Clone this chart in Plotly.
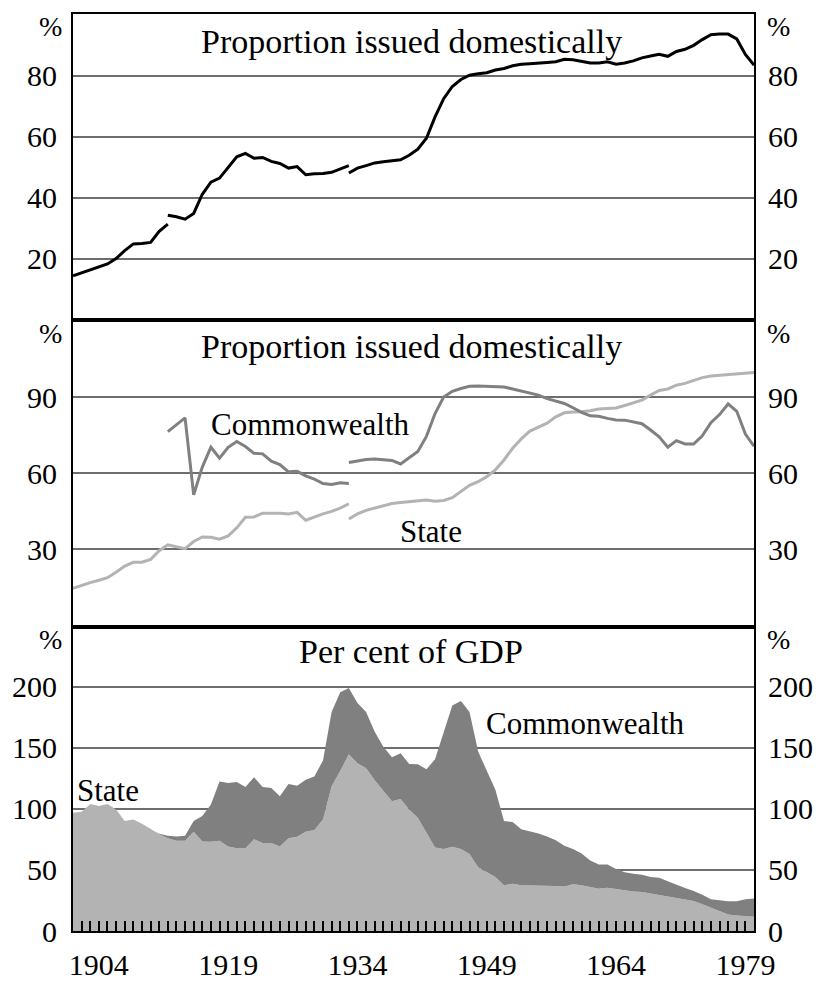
import plotly.graph_objects as go

# ---------------- data ----------------
years_all = list(range(1901, 1981))
label_years = [1904, 1919, 1934, 1949, 1964, 1979]

# Panel 1: proportion issued domestically (total), three series segments
total_dom_years_1 = list(range(1901, 1913))
total_dom_1 = [14.3, 15.3, 16.3, 17.3, 18.2, 20.0, 22.6, 24.8, 24.9, 25.3, 28.9, 31.3]
total_dom_years_2 = list(range(1912, 1934))
total_dom_2 = [34.2, 33.7, 32.9, 34.8, 41.1, 45.1, 46.4, 50.0, 53.4, 54.5, 52.9,
               53.2, 51.9, 51.2, 49.7, 50.2, 47.5, 47.8, 47.9, 48.3, 49.4, 50.5]
total_dom_years_3 = list(range(1933, 1981))
total_dom_3 = [48.1, 49.7, 50.5, 51.4, 51.8, 52.1, 52.4, 53.9, 55.9, 59.5,
               66.5, 72.5, 76.5, 78.8, 80.2, 80.7, 81.0, 81.9, 82.4, 83.3,
               83.8, 84.0, 84.3, 84.4, 84.6, 85.4, 85.3, 84.8, 84.2, 84.2,
               84.6, 83.8, 84.2, 84.9, 85.9, 86.5, 87.1, 86.4, 88.0, 88.7,
               90.0, 91.9, 93.5, 93.7, 93.7, 92.1, 87.0, 83.5]

# Panel 2: proportion issued domestically by issuer
cw_dom_years_1 = list(range(1912, 1934))
cw_dom_1 = [76.4, 79.0, 81.8, 51.4, 62.4, 70.2, 65.9, 70.2, 72.5, 70.5, 67.8,
            67.6, 64.7, 63.4, 60.5, 60.7, 58.9, 57.6, 55.9, 55.5, 56.2, 55.9]
cw_dom_years_2 = list(range(1933, 1981))
cw_dom_2 = [64.2, 64.8, 65.4, 65.6, 65.4, 65.0, 63.6, 66.0, 68.5, 74.5,
            83.5, 90.0, 92.3, 93.4, 94.3, 94.4, 94.3, 94.1, 94.0, 93.2,
            92.4, 91.8, 90.8, 89.4, 88.6, 87.5, 85.8, 84.0, 82.6, 82.4,
            81.6, 81.0, 80.9, 80.3, 79.5, 77.0, 74.3, 70.2, 72.8, 71.5,
            71.5, 74.7, 79.9, 83.1, 87.3, 84.4, 75.4, 70.6]
st_dom_years_1 = list(range(1901, 1934))
st_dom_1 = [14.5, 15.7, 16.8, 17.7, 18.7, 20.9, 23.3, 24.8, 24.8, 25.9,
            29.4, 31.7, 31.0, 30.2, 33.0, 34.8, 34.7, 33.9, 35.2, 38.4,
            42.6, 42.7, 44.2, 44.2, 44.2, 43.9, 44.5, 41.4, 42.7, 43.9,
            44.9, 46.2, 47.9]
st_dom_years_2 = list(range(1933, 1981))
st_dom_2 = [41.9, 43.9, 45.3, 46.3, 47.3, 48.0, 48.4, 48.8, 49.1, 49.4,
            48.9, 49.2, 50.3, 52.8, 55.2, 56.6, 58.6, 61.3, 65.2, 69.8,
            73.5, 76.6, 78.3, 79.7, 82.2, 83.8, 84.1, 84.2, 84.6, 85.3,
            85.5, 85.7, 86.7, 87.8, 88.8, 90.8, 92.6, 93.2, 94.7, 95.4,
            96.7, 97.7, 98.3, 98.6, 98.9, 99.1, 99.4, 99.7]

# Panel 3: per cent of GDP (stacked)
state_gdp = [96.8, 97.5, 104.0, 102.2, 104.0, 99.4, 90.0, 91.3, 87.8, 83.2,
             79.2, 75.9, 73.8, 73.8, 81.1, 73.3, 73.0, 73.8, 69.2, 67.8,
             67.8, 75.1, 71.9, 71.9, 69.2, 75.9, 77.1, 81.1, 82.7, 91.3,
             118.4, 131.0, 144.6, 137.3, 133.2, 123.3, 114.3, 106.2, 108.0, 99.4,
             92.7, 80.6, 68.4, 67.0, 69.0, 67.0, 63.0, 52.2, 48.1, 44.1,
             37.4, 38.7, 37.4, 37.4, 37.4, 37.4, 36.8, 36.5, 38.2, 37.4,
             36.0, 34.6, 35.4, 34.3, 33.3, 32.4, 31.9, 30.6, 29.8, 28.5,
             27.1, 25.8, 24.5, 21.8, 19.0, 16.3, 13.5, 12.7, 12.1, 11.7]
cw_gdp = [0, 0, 0, 0, 0, 0, 0, 0, 0, 0,
          0.3, 2.1, 3.5, 4.1, 8.9, 20.8, 30.5, 48.6, 51.9, 54.1,
          50.0, 50.6, 45.9, 45.1, 41.1, 44.4, 41.8, 42.6, 43.8, 48.2,
          60.8, 64.4, 54.3, 49.2, 46.0, 39.7, 36.5, 35.9, 37.4, 37.3,
          43.8, 51.8, 72.1, 94.6, 115.5, 121.1, 116.2, 94.6, 82.4, 71.5,
          52.6, 50.5, 45.8, 44.1, 42.3, 39.9, 37.5, 33.3, 28.8, 26.1,
          21.6, 19.8, 19.0, 16.5, 14.8, 14.4, 14.1, 13.5, 13.7, 12.3,
          10.7, 9.4, 8.2, 7.9, 7.0, 8.9, 10.9, 11.7, 13.9, 14.8]

top_ticks = [20, 40, 60, 80]
mid_ticks = [30, 60, 90]
bot_ticks = [0, 50, 100, 150, 200]

# ---------------- style ----------------
FONT = "Liberation Serif"
BLACK = "#000000"
DARK = "#808080"
LIGHT = "#b3b3b3"
GRID = "#6e6e6e"

fig = go.Figure()

# top panel
for xs, ys in [(total_dom_years_1, total_dom_1), (total_dom_years_2, total_dom_2),
               (total_dom_years_3, total_dom_3)]:
    fig.add_trace(go.Scatter(x=xs, y=ys, mode="lines", xaxis="x3", yaxis="y3",
                             line=dict(color=BLACK, width=3), showlegend=False,
                             hoverinfo="skip"))
# middle panel
for xs, ys in [(st_dom_years_1, st_dom_1), (st_dom_years_2, st_dom_2)]:
    fig.add_trace(go.Scatter(x=xs, y=ys, mode="lines", xaxis="x2", yaxis="y2",
                             line=dict(color=LIGHT, width=3), showlegend=False,
                             hoverinfo="skip"))
for xs, ys in [(cw_dom_years_1, cw_dom_1), (cw_dom_years_2, cw_dom_2)]:
    fig.add_trace(go.Scatter(x=xs, y=ys, mode="lines", xaxis="x2", yaxis="y2",
                             line=dict(color=DARK, width=3), showlegend=False,
                             hoverinfo="skip"))
# bottom panel (stacked areas)
fig.add_trace(go.Scatter(x=years_all, y=state_gdp, mode="lines", stackgroup="gdp",
                         line=dict(width=0, color=LIGHT), fillcolor=LIGHT,
                         xaxis="x", yaxis="y", showlegend=False, hoverinfo="skip"))
fig.add_trace(go.Scatter(x=years_all, y=cw_gdp, mode="lines", stackgroup="gdp",
                         line=dict(width=0, color=DARK), fillcolor=DARK,
                         xaxis="x", yaxis="y", showlegend=False, hoverinfo="skip"))
# dummy traces so right-hand axes render
for xa, ya in [("x", "y4"), ("x2", "y5"), ("x3", "y6")]:
    fig.add_trace(go.Scatter(x=[None], y=[None], xaxis=xa, yaxis=ya,
                             showlegend=False, hoverinfo="skip"))

bot_dom = [0, 308 / 928]
mid_dom = [308 / 928, 618 / 928]
top_dom = [618 / 928, 1]

tickfont = dict(family=FONT, size=30, color=BLACK)
xr = [1901, 1980]

common_x = dict(range=xr, showgrid=False, zeroline=False, showline=True,
                mirror=True, linecolor=BLACK, linewidth=2)
fig.update_layout(
    width=825, height=993,
    margin=dict(l=71, r=67, t=12, b=53),
    paper_bgcolor="white", plot_bgcolor="white",
    showlegend=False,
    xaxis=dict(**common_x, anchor="y", tickmode="array", tickvals=years_all,
               ticktext=[str(y) if y in label_years else "" for y in years_all],
               ticks="inside", ticklen=10, tickwidth=1.5, tickcolor=BLACK,
               tickfont=tickfont, ticklabelstandoff=6),
    xaxis2=dict(**common_x, anchor="y2", matches="x", showticklabels=False, ticks=""),
    xaxis3=dict(**common_x, anchor="y3", matches="x", showticklabels=False, ticks=""),
)

def yax(dom, rng, tv, anchor):
    return dict(domain=dom, range=rng, tickmode="array", tickvals=tv,
                showgrid=True, gridcolor=GRID, gridwidth=1.5, zeroline=False,
                showline=True, mirror=True, linecolor=BLACK, linewidth=2,
                ticks="", tickfont=tickfont, anchor=anchor, ticklabelstandoff=8)

def yax_r(over, rng, tv, anchor):
    return dict(overlaying=over, side="right", range=rng, tickmode="array",
                tickvals=tv, showgrid=False, zeroline=False, showline=False,
                ticks="", tickfont=tickfont, anchor=anchor, ticklabelstandoff=13)

bot_rng = [0, 249]
mid_rng = [-0.6, 120.3]
top_rng = [-0.3, 100.3]

fig.update_layout(
    yaxis=yax(bot_dom, bot_rng, bot_ticks, "x"),
    yaxis2=yax(mid_dom, mid_rng, mid_ticks, "x2"),
    yaxis3=yax(top_dom, top_rng, top_ticks, "x3"),
    yaxis4=yax_r("y", bot_rng, bot_ticks, "x"),
    yaxis5=yax_r("y2", mid_rng, mid_ticks, "x2"),
    yaxis6=yax_r("y3", top_rng, top_ticks, "x3"),
)

title_font = dict(family=FONT, size=34, color=BLACK)
label_font = dict(family=FONT, size=31, color=BLACK)

ann = []
ann.append(dict(text="Proportion issued domestically", xref="paper", yref="paper",
                x=0.497, y=(940 - 40) / 928, showarrow=False, font=title_font,
                xanchor="center", yanchor="middle"))
ann.append(dict(text="Proportion issued domestically", xref="paper", yref="paper",
                x=0.497, y=(940 - 348) / 928, showarrow=False, font=title_font,
                xanchor="center", yanchor="middle"))
ann.append(dict(text="Per cent of GDP", xref="paper", yref="paper",
                x=0.497, y=(940 - 657) / 928, showarrow=False, font=title_font,
                xanchor="center", yanchor="middle"))
ann.append(dict(text="Commonwealth", xref="x2", yref="y2", x=1928.5, y=79,
                showarrow=False, font=label_font, xanchor="center", yanchor="middle"))
ann.append(dict(text="State", xref="x2", yref="y2", x=1942.5, y=37,
                showarrow=False, font=label_font, xanchor="center", yanchor="middle"))
ann.append(dict(text="State", xref="x", yref="y", x=1905.1, y=115,
                showarrow=False, font=label_font, xanchor="center", yanchor="middle"))
ann.append(dict(text="Commonwealth", xref="x", yref="y", x=1960.4, y=170,
                showarrow=False, font=label_font, xanchor="center", yanchor="middle"))
for py in [25, 335, 645]:
    for px in [48, 783]:
        ann.append(dict(text="%", xref="paper", yref="paper",
                        x=(px - 71) / 687, y=(940 - py) / 928, showarrow=False,
                        font=dict(family=FONT, size=28, color=BLACK),
                        xanchor="center", yanchor="middle"))
fig.update_layout(annotations=ann)

# remove the browser's default 8px body margin so the figure fills the window exactly
fig.write_html("out.html", config={"displayModeBar": False},
               post_script="document.body.style.margin='0px';")
